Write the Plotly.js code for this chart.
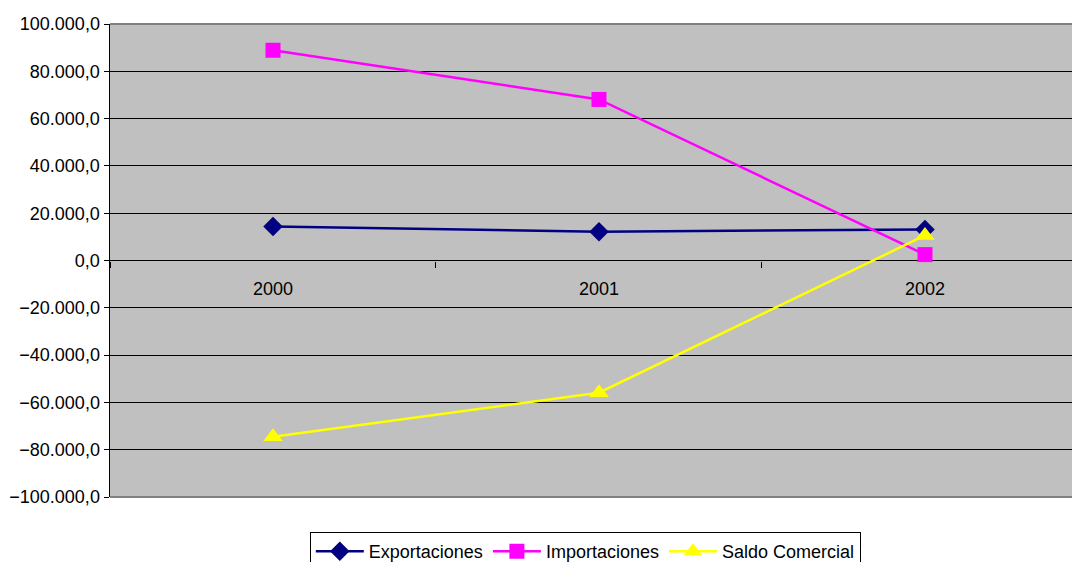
<!DOCTYPE html>
<html>
<head>
<meta charset="utf-8">
<script src="https://cdn.plot.ly/plotly-3.0.1.min.js"></script>
<style>html,body{margin:0;padding:0;background:#fff;}#chart{width:1072px;height:562px;}</style>
</head>
<body>
<div id="chart"></div>
<script>
const years = ['2000', '2001', '2002'];
const exportaciones = [14400, 12200, 13100];
const importaciones = [88900, 68100, 2500];
const saldoComercial = [-74500, -55900, 10600];

const font = {family: '"Liberation Sans", Arial, sans-serif', size: 18, color: '#000'};

const traces = [
  {x: years, y: exportaciones, name: 'Exportaciones', type: 'scatter', mode: 'lines+markers',
   line: {color: '#000080', width: 2.5}, marker: {symbol: 'diamond', size: 15, color: '#000080'}},
  {x: years, y: importaciones, name: 'Importaciones', type: 'scatter', mode: 'lines+markers',
   line: {color: '#FF00FF', width: 2.5}, marker: {symbol: 'square', size: 15, color: '#FF00FF'}},
  {x: years, y: saldoComercial, name: 'Saldo Comercial', type: 'scatter', mode: 'lines+markers',
   line: {color: '#FFFF00', width: 2.5}, marker: {symbol: 'triangle-up', size: 17, color: '#FFFF00'}}
];

const layout = {
  width: 1072, height: 562,
  margin: {l: 110, r: 0, t: 24, b: 65, pad: 0, autoexpand: false},
  paper_bgcolor: '#fff', plot_bgcolor: '#C0C0C0',
  font: font,
  separators: ',.',
  showlegend: true,
  legend: {orientation: 'h', xref: 'container', x: 0.289, xanchor: 'left',
           yref: 'container', y: 0.0534, yanchor: 'top',
           bordercolor: '#000', borderwidth: 1, bgcolor: '#fff', font: font,
           itemwidth: 48, tracegroupgap: 0},
  xaxis: {type: 'category', range: [-0.5, 2.451], anchor: 'free', position: 0.5,
          showgrid: false, zeroline: false, showline: false, automargin: false,
          ticks: 'outside', tickson: 'boundaries', ticklen: 6, tickwidth: 1, tickcolor: '#000',
          ticklabelstandoff: 15, tickfont: font, fixedrange: true},
  yaxis: {range: [-100000, 100000], dtick: 20000, tickformat: ',.1f', automargin: false,
          showgrid: true, gridcolor: '#000', gridwidth: 1,
          zeroline: true, zerolinecolor: '#000', zerolinewidth: 1,
          showline: true, linecolor: '#000', linewidth: 1.5,
          ticks: 'outside', ticklen: 5, tickcolor: '#000', tickfont: font,
          fixedrange: true},
  shapes: [
    {type: 'line', xref: 'paper', yref: 'paper', x0: 0, x1: 1, y0: 1, y1: 1, line: {color: '#808080', width: 2}},
    {type: 'line', xref: 'paper', yref: 'paper', x0: 0, x1: 1, y0: 0, y1: 0, line: {color: '#808080', width: 2}}
  ]
};

Plotly.newPlot('chart', traces, layout, {displayModeBar: false, staticPlot: true});
</script>
</body>
</html>
